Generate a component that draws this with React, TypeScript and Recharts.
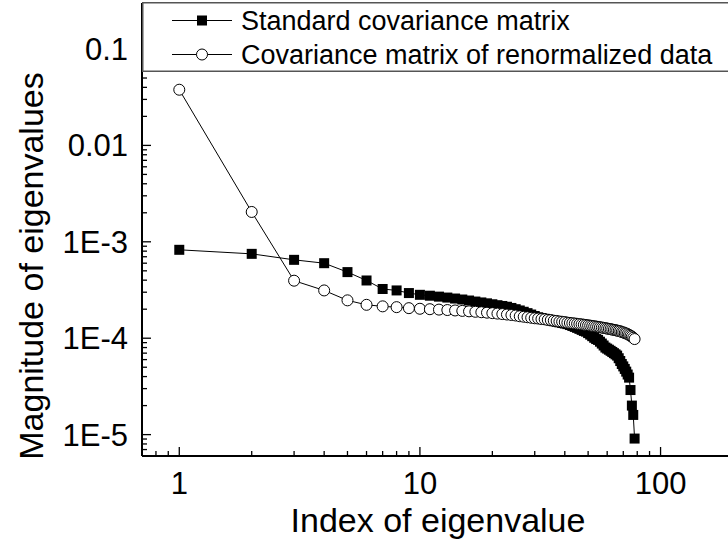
import React from 'react';
import { LineChart, Line, XAxis, YAxis, Legend } from 'recharts';

// eigenvalue index 1..78
const indices = Array.from({ length: 78 }, (_, i) => i + 1);

const standardCov = [
  8.26e-4, 7.5e-4, 6.5e-4, 6.0e-4, 4.85e-4, 3.97e-4, 3.24e-4, 3.13e-4, 2.94e-4, 2.82e-4,
  2.76e-4, 2.7e-4, 2.64e-4, 2.58e-4, 2.52e-4, 2.46e-4, 2.4e-4, 2.35e-4, 2.3e-4, 2.25e-4,
  2.2e-4, 2.16e-4, 2.12e-4, 2.06e-4, 2.0e-4, 1.94e-4, 1.88e-4, 1.82e-4, 1.76e-4, 1.7e-4,
  1.65e-4, 1.62e-4, 1.59e-4, 1.56e-4, 1.53e-4, 1.5e-4, 1.48e-4, 1.46e-4, 1.44e-4, 1.42e-4,
  1.4e-4, 1.37e-4, 1.34e-4, 1.31e-4, 1.28e-4, 1.25e-4, 1.22e-4, 1.19e-4, 1.17e-4, 1.13e-4,
  1.09e-4, 1.05e-4, 1.01e-4, 9.8e-5, 9.6e-5, 9.2e-5, 8.8e-5, 8.4e-5, 8.0e-5, 7.8e-5,
  7.6e-5, 7.4e-5, 7.2e-5, 7.0e-5, 6.8e-5, 6.6e-5, 6.2e-5, 5.8e-5, 5.4e-5, 5.1e-5,
  4.8e-5, 4.5e-5, 4.2e-5, 3.9e-5, 2.9e-5, 2.0e-5, 1.6e-5, 9.1e-6,
];

const renormCov = [
  3.78e-2, 2.04e-3, 3.95e-4, 3.13e-4, 2.47e-4, 2.22e-4, 2.14e-4, 2.1e-4, 2.05e-4, 2.02e-4,
  2.0e-4, 1.98e-4, 1.96e-4, 1.94e-4, 1.92e-4, 1.9e-4, 1.88e-4, 1.86e-4, 1.84e-4, 1.82e-4,
  1.8e-4, 1.78e-4, 1.76e-4, 1.74e-4, 1.72e-4, 1.69e-4, 1.67e-4, 1.65e-4, 1.63e-4, 1.61e-4,
  1.6e-4, 1.58e-4, 1.57e-4, 1.55e-4, 1.54e-4, 1.52e-4, 1.51e-4, 1.49e-4, 1.48e-4, 1.47e-4,
  1.45e-4, 1.44e-4, 1.43e-4, 1.42e-4, 1.41e-4, 1.4e-4, 1.39e-4, 1.38e-4, 1.37e-4, 1.36e-4,
  1.35e-4, 1.34e-4, 1.33e-4, 1.32e-4, 1.31e-4, 1.3e-4, 1.29e-4, 1.28e-4, 1.27e-4, 1.26e-4,
  1.25e-4, 1.24e-4, 1.23e-4, 1.22e-4, 1.21e-4, 1.2e-4, 1.19e-4, 1.18e-4, 1.16e-4, 1.15e-4,
  1.13e-4, 1.12e-4, 1.1e-4, 1.08e-4, 1.06e-4, 1.04e-4, 1.01e-4, 9.8e-5,
];

const xTicks = [0.7, 0.8, 0.9, 1, 2, 3, 4, 5, 6, 7, 8, 9, 10, 20, 30, 40, 50, 60, 70, 80, 90, 100, 200];
const xMajor = [1, 10, 100];
const xLabels = ['1', '10', '100'];

const yTicks = [
  6e-6, 7e-6, 8e-6, 9e-6,
  1e-5, 2e-5, 3e-5, 4e-5, 5e-5, 6e-5, 7e-5, 8e-5, 9e-5,
  1e-4, 2e-4, 3e-4, 4e-4, 5e-4, 6e-4, 7e-4, 8e-4, 9e-4,
  1e-3, 2e-3, 3e-3, 4e-3, 5e-3, 6e-3, 7e-3, 8e-3, 9e-3,
  0.01, 0.02, 0.03, 0.04, 0.05, 0.06, 0.07, 0.08, 0.09,
  0.1, 0.2, 0.3,
];
const yMajor = [1e-5, 1e-4, 1e-3, 0.01, 0.1];
const yLabels = ['1E-5', '1E-4', '1E-3', '0.01', '0.1'];

const seriesNames = ['Standard covariance matrix', 'Covariance matrix of renormalized data'];

const data = indices.map((idx, i) => ({ idx, std: standardCov[i], renorm: renormCov[i] }));

const FONT = '"Liberation Sans", Arial, sans-serif';

const findMajor = (list: number[], v: number) => list.findIndex(m => Math.abs(m - v) / m < 1e-6);

const LeftTick = (props: any) => {
  const { x, y, payload } = props;
  const i = findMajor(yMajor, payload.value);
  return (
    <g>
      <line x1={x} x2={x + (i >= 0 ? 9 : 5)} y1={y} y2={y} stroke="#000" strokeWidth={1.3} />
      {i >= 0 && (
        <text x={x - 14} y={y + 11} textAnchor="end" fontSize={31} fontFamily={FONT} fill="#000">
          {yLabels[i]}
        </text>
      )}
    </g>
  );
};

const RightTick = (props: any) => {
  const { x, y, payload } = props;
  const i = findMajor(yMajor, payload.value);
  return <line x1={x} x2={x - (i >= 0 ? 9 : 5)} y1={y} y2={y} stroke="#000" strokeWidth={1.3} />;
};

const BottomTick = (props: any) => {
  const { x, y, payload } = props;
  const i = findMajor(xMajor, payload.value);
  return (
    <g>
      <line x1={x} x2={x} y1={y} y2={y - (i >= 0 ? 9 : 5)} stroke="#000" strokeWidth={1.3} />
      {i >= 0 && (
        <text x={x} y={y + 38} textAnchor="middle" fontSize={31} fontFamily={FONT} fill="#000">
          {xLabels[i]}
        </text>
      )}
    </g>
  );
};

const XTitle = () => (
  <text x={438} y={532} textAnchor="middle" fontSize={34} fontFamily={FONT} fill="#000">
    Index of eigenvalue
  </text>
);

const YTitle = () => (
  <text x={43} y={266} transform="rotate(-90, 43, 266)" textAnchor="middle" fontSize={34} fontFamily={FONT} fill="#000">
    Magnitude of eigenvalues
  </text>
);

const SquareDot = (p: any) => (
  <rect key={`s-${p.index}`} x={p.cx - 5} y={p.cy - 5} width={10} height={10} fill="#000" />
);

const CircleDot = (p: any) => (
  <circle key={`c-${p.index}`} cx={p.cx} cy={p.cy} r={5.5} fill="#fff" stroke="#000" strokeWidth={1} />
);

const LegendBox = () => (
  <svg width={592} height={70} style={{ display: 'block', background: '#fff' }}>
    <rect x={0.75} y={0.75} width={590.5} height={68.5} fill="#fff" stroke="#555" strokeWidth={1.5} />
    <line x1={30} x2={90} y1={18.5} y2={18.5} stroke="#000" strokeWidth={1} />
    <rect x={55} y={13.5} width={10} height={10} fill="#000" />
    <text x={99} y={28} fontSize={27} fontFamily={FONT} fill="#000">{seriesNames[0]}</text>
    <line x1={30} x2={90} y1={52.5} y2={52.5} stroke="#000" strokeWidth={1} />
    <circle cx={60} cy={52.5} r={5.5} fill="#fff" stroke="#000" strokeWidth={1} />
    <text x={99} y={62} fontSize={27} fontFamily={FONT} fill="#000">{seriesNames[1]}</text>
  </svg>
);

export default function App() {
  return (
    <div style={{ position: 'absolute', left: 0, top: 0, width: 728, height: 542, overflow: 'hidden', background: '#fff' }}>
      <LineChart width={750} height={542} data={data} margin={{ top: 3, right: 17, bottom: 0, left: 0 }}>
        <XAxis
          dataKey="idx"
          type="number"
          scale="log"
          domain={[0.7, 200]}
          allowDataOverflow
          ticks={xTicks}
          interval={0}
          tickSize={0}
          tickMargin={0}
          tick={BottomTick}
          tickLine={false}
          height={86}
          axisLine={{ stroke: '#000', strokeWidth: 2 }}
          label={<XTitle />}
        />
        <YAxis
          yAxisId="left"
          type="number"
          scale="log"
          domain={[6e-6, 0.3]}
          allowDataOverflow
          ticks={yTicks}
          interval={0}
          tickSize={0}
          tickMargin={0}
          tick={LeftTick}
          tickLine={false}
          width={142}
          axisLine={{ stroke: '#000', strokeWidth: 2 }}
          label={<YTitle />}
        />
        <YAxis
          yAxisId="right"
          orientation="right"
          type="number"
          scale="log"
          domain={[6e-6, 0.3]}
          allowDataOverflow
          ticks={yTicks}
          interval={0}
          tickSize={0}
          tickMargin={0}
          tick={RightTick}
          tickLine={false}
          width={0}
          axisLine={{ stroke: '#000', strokeWidth: 2 }}
        />
        <Legend
          layout="vertical"
          verticalAlign="middle"
          align="center"
          content={LegendBox}
          wrapperStyle={{ top: 2, left: 142, width: 592, height: 70, margin: 0, padding: 0 }}
        />
        <Line
          yAxisId="left"
          dataKey="std"
          name={seriesNames[0]}
          type="linear"
          stroke="#000"
          strokeWidth={1}
          dot={SquareDot}
          activeDot={false}
          isAnimationActive={false}
        />
        <Line
          yAxisId="left"
          dataKey="renorm"
          name={seriesNames[1]}
          type="linear"
          stroke="#000"
          strokeWidth={1}
          dot={CircleDot}
          activeDot={false}
          isAnimationActive={false}
        />
      </LineChart>
    </div>
  );
}
